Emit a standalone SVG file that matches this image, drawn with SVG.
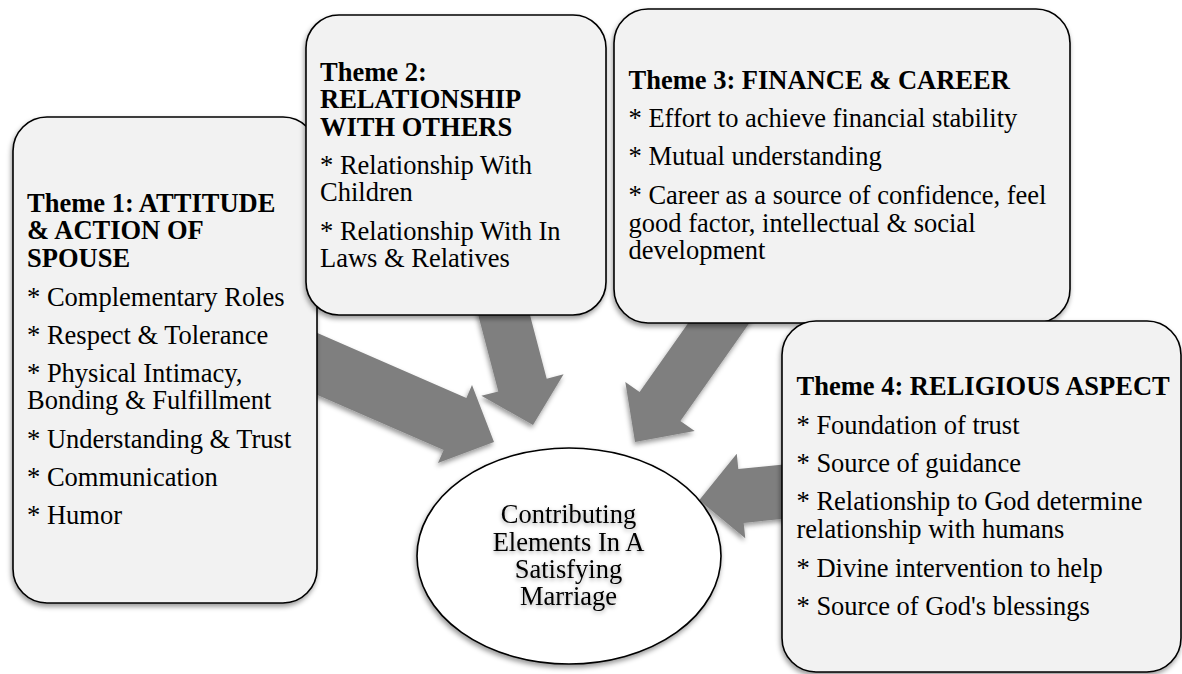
<svg xmlns="http://www.w3.org/2000/svg" width="1182" height="674" viewBox="0 0 1182 674">
<style>
.box{fill:#f2f2f2;stroke:#000;stroke-width:1.6}
.ell{fill:#fff;stroke:#000;stroke-width:1.6}
.arr{fill:#7f7f7f;stroke:none}
text{font-family:'Liberation Serif','Tinos','DejaVu Serif',serif;font-size:26.5px;fill:#000}
.h{font-weight:bold}
.c{text-anchor:middle}
</style>
<defs>
<filter id="sh" x="-10%" y="-10%" width="120%" height="125%">
<feDropShadow dx="-1" dy="3" stdDeviation="2.5" flood-color="#000" flood-opacity="0.4"/>
</filter>
<filter id="tsh" x="-10%" y="-20%" width="120%" height="150%">
<feDropShadow dx="0" dy="2" stdDeviation="2" flood-color="#000" flood-opacity="0.35"/>
</filter>
</defs>
<rect width="1182" height="674" fill="#fff"/>
<g id="connectors" filter="url(#sh)">
<polygon class="arr" points="283,318 466.4,397.9 472,385 494,442 438,463 443.6,450.1 260,370"/>
<polygon class="arr" points="460.2,246.4 498.3,391.4 481.4,395.8 533,425 563.6,374.2 546.7,378.7 508.6,233.7"/>
<polygon class="arr" points="766.8,298.3 680.4,420.9 694.7,431 635,442 625.3,382 639.6,392.1 726,269.5"/>
<polygon class="arr" points="887.6,454.1 738.3,469.1 736.75,453.7 699.2,500.2 745.25,538.3 743.7,522.9 893,507.9"/>
</g>
<g id="theme1">
<rect class="box" filter="url(#sh)" x="13" y="117" width="304" height="486" rx="34" ry="34"/>
<text class="h" x="27" y="211.5">Theme 1: ATTITUDE</text>
<text class="h" x="27" y="239">&amp; ACTION OF</text>
<text class="h" x="27" y="266.5">SPOUSE</text>
<text x="27" y="305.5">* Complementary Roles</text>
<text x="27" y="343.5">* Respect &amp; Tolerance</text>
<text x="27" y="381.5">* Physical Intimacy,</text>
<text x="27" y="409">Bonding &amp; Fulfillment</text>
<text x="27" y="447.5">* Understanding &amp; Trust</text>
<text x="27" y="485.5">* Communication</text>
<text x="27" y="524">* Humor</text>
</g>
<g id="theme2">
<rect class="box" filter="url(#sh)" x="306" y="15" width="300" height="300" rx="33" ry="33"/>
<text class="h" x="320" y="80.5">Theme 2:</text>
<text class="h" x="320" y="108">RELATIONSHIP</text>
<text class="h" x="320" y="135.5">WITH OTHERS</text>
<text x="320" y="173.5">* Relationship With</text>
<text x="320" y="201">Children</text>
<text x="320" y="239.5">* Relationship With In</text>
<text x="320" y="267">Laws &amp; Relatives</text>
</g>
<g id="theme3">
<rect class="box" filter="url(#sh)" x="614" y="9" width="456" height="314" rx="34" ry="34"/>
<text class="h" x="628.5" y="88.5">Theme 3: FINANCE &amp; CAREER</text>
<text x="628.5" y="127">* Effort to achieve financial stability</text>
<text x="628.5" y="165">* Mutual understanding</text>
<text x="628.5" y="203.5">* Career as a source of confidence, feel</text>
<text x="628.5" y="231.5">good factor, intellectual &amp; social</text>
<text x="628.5" y="259">development</text>
</g>
<g id="theme4">
<rect class="box" filter="url(#sh)" x="782" y="321" width="399" height="351" rx="34" ry="34"/>
<text class="h" x="796.5" y="395">Theme 4: RELIGIOUS ASPECT</text>
<text x="796.5" y="434">* Foundation of trust</text>
<text x="796.5" y="472">* Source of guidance</text>
<text x="796.5" y="510">* Relationship to God determine</text>
<text x="796.5" y="538">relationship with humans</text>
<text x="796.5" y="576.5">* Divine intervention to help</text>
<text x="796.5" y="615">* Source of God's blessings</text>
</g>
<g id="center">
<ellipse class="ell" filter="url(#sh)" cx="569" cy="556" rx="152" ry="108"/>
<g filter="url(#tsh)">
<text class="c" x="568.5" y="522.5">Contributing</text>
<text class="c" x="568.5" y="550.5">Elements In A</text>
<text class="c" x="568.5" y="578">Satisfying</text>
<text class="c" x="568.5" y="605">Marriage</text>
</g>
</g>
</svg>
